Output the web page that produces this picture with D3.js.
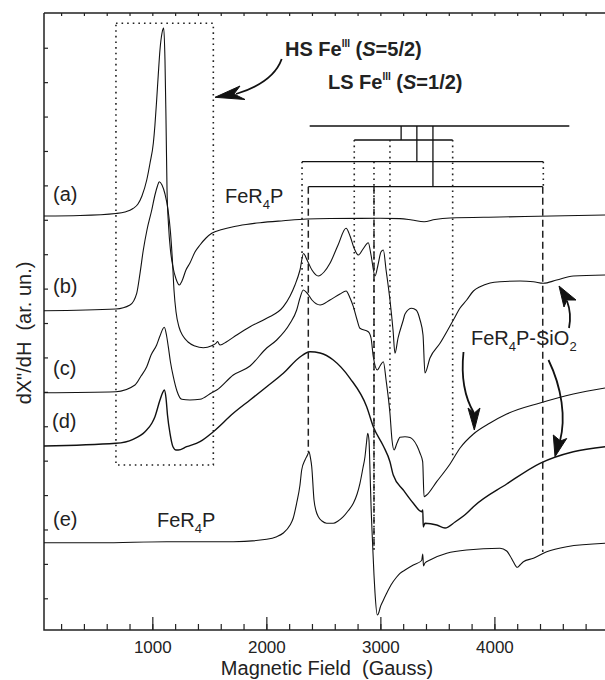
<!DOCTYPE html>
<html>
<head>
<meta charset="utf-8">
<script src="https://d3js.org/d3.v7.min.js"></script>
<style>
  body { margin: 0; background: #fff; }
  text { font-family: "Liberation Sans", Arial, sans-serif; fill: #222; }
</style>
</head>
<body>
<div id="chart"><svg width="605" height="680"></svg></div>
<script>
// field in Gauss, signal in arbitrary units (height above the bottom axis)
var curveA = [[50,414],[366,414.5],[681,416.5],[760,418],[831,421.5],[874,426],[909,434],[951,450],[980,467],[1009,487],[1023,505],[1038,530],[1052,555],[1067,580],[1085,597],[1100,602],[1111,570],[1120,510],[1129,440],[1142,405],[1159,380],[1181,363],[1208,351],[1237,345],[1260,349],[1295,360],[1330,367],[1374,378],[1418,385],[1471,392],[1521,396.7],[1611,400.5],[1710,403.3],[1822,405.5],[1945,407.3],[2149,409.3],[2354,411],[2558,411.5],[2997,411.7],[3172,411.4],[3277,410],[3383,408.3],[3479,410.5],[3611,412],[4049,413],[4970,415]];

var curveB = [[50,319.3],[681,321],[804,325],[863,336.7],[892,356.7],[921,380],[953,400],[995,420],[1023,435],[1045,444],[1061,448.3],[1085,445],[1111,436],[1138,420],[1159,398],[1177,368],[1190,340],[1208,318],[1234,303],[1269,294],[1313,288],[1374,284],[1447,282.3],[1521,284.3],[1558,286.7],[1573,288.5],[1585,286],[1594,285],[1652,288.3],[1740,295],[1857,303.3],[2003,311.7],[2149,323.3],[2208,334],[2251,345],[2295,360],[2326,376.5],[2357,370],[2400,360],[2456,354],[2506,358],[2558,366.7],[2629,385],[2699,401.7],[2734,394],[2769,382],[2806,375],[2848,381],[2894,387.3],[2918,375],[2953,354],[2979,365],[3005,378],[3026,380],[3050,360],[3084,330],[3111,300],[3128,276.7],[3155,292],[3201,310],[3216,316],[3275,321.7],[3313,320],[3348,310],[3374,295],[3391,257],[3435,272],[3523,286.7],[3640,310],[3699,322],[3757,330],[3816,339],[3874,343.3],[3962,347],[4049,348.3],[4225,349],[4342,348.3],[4429,346.7],[4546,350],[4692,354],[4970,355]];

var curveC = [[50,237.3],[681,238.3],[848,245],[901,254],[951,263.3],[989,275],[1038,285],[1067,294],[1105,302.7],[1124,295],[1140,283.3],[1159,268],[1184,253.3],[1216,239],[1258,230.7],[1330,230],[1418,230.7],[1521,237.3],[1565,240],[1710,255],[1857,264],[2003,282],[2091,290],[2208,306.7],[2266,320],[2295,332],[2324,340],[2357,337],[2400,330],[2471,325],[2558,330],[2646,336],[2699,339],[2734,332],[2763,323.3],[2796,310],[2821,301.7],[2894,298.3],[2918,292],[2938,273.3],[2973,260],[2997,264],[3026,268.3],[3050,250],[3084,216.7],[3102,190],[3120,180],[3146,187],[3172,192.7],[3216,193.3],[3260,192.5],[3289,190],[3322,184],[3348,176.7],[3371,168.3],[3383,133.3],[3406,135],[3494,148.3],[3611,166],[3699,182],[3816,196],[3962,207],[4108,216],[4400,227],[4692,236],[4970,242]];

var curveD = [[50,184],[681,186.7],[831,190.7],[936,198.3],[997,207],[1023,213.3],[1067,230],[1089,237],[1105,240],[1120,232],[1133,215],[1155,196.7],[1181,183.3],[1208,180],[1228,180],[1301,183.3],[1418,188.3],[1535,198.3],[1710,216.7],[1857,230],[2003,243.3],[2149,256.7],[2295,273],[2383,278.3],[2471,277],[2587,270],[2734,251.7],[2880,223.3],[2938,203.3],[3026,184],[3084,168.3],[3113,155],[3201,140],[3289,126.7],[3362,118.3],[3372,120],[3376,103],[3391,106.7],[3494,105],[3567,102],[3655,108],[3757,116.7],[3816,123.3],[4108,146],[4400,166.7],[4692,178.3],[4970,183.3]];

var curveE = [[50,87.3],[541,87.3],[1126,88.3],[1710,88.3],[2003,90.7],[2091,93.3],[2149,97],[2208,105],[2236,112],[2266,127],[2295,145],[2310,160],[2339,170],[2361,175],[2374,178.3],[2387,172],[2398,163.3],[2418,130],[2436,119],[2456,113.3],[2488,109],[2529,106.7],[2587,106.7],[2629,109],[2675,113.3],[2716,119],[2763,126.7],[2796,136],[2821,146.7],[2847,162],[2865,173.3],[2878,187],[2889,196.7],[2900,190],[2909,160],[2918,125],[2933,83.3],[2944,55],[2953,37],[2973,15],[2988,18],[2997,22],[3023,29],[3055,36.7],[3093,45],[3143,53],[3172,56.7],[3216,60],[3289,65],[3362,69.5],[3372,76],[3378,64],[3391,67],[3435,70],[3582,76.7],[3757,80],[4049,81.7],[4108,79],[4138,74],[4166,68.3],[4201,62.7],[4225,65],[4254,68.3],[4342,71.7],[4459,78.3],[4634,83.3],[4970,86.7]];

// g-value brackets: [fieldFrom, fieldTo, level]
var bracketBars = [[2380,4657,504],[2771,3634,490],[2313,4429,468.3],[2368,4424,443.3]];
// connectors between brackets: [field, levelTop, levelBottom]
var bracketLinks = [[3182,504,490],[3320,504,468.3],[3461,504,443.3]];
// drop lines: [field, levelTop, levelBottom, style]
var dropLines = [[2313,468.3,340,"dot"],[2368,443.3,178,"dash"],[2771,490,320,"dot"],
  [2944,468.3,80,"dot"],[2944,443.3,80,"dash"],[3084,490,217,"dot"],[3634,490,173,"dot"],
  [4429,468.3,443.3,"dot"],[4424,443.3,78,"dash"]];
// HS region box: fields and levels
var hsBox = [681, 1535, 165, 606.7];

var majorTicks = [1000, 2000, 3000, 4000];
var minorTicks = d3.range(200, 4970, 200);
var yTicks = d3.range(17).map(function(k) { return 31.7 + 34.41 * k; });

var svg = d3.select("#chart svg");
var x = d3.scaleLinear().domain([50, 4970]).range([44, 605]);
var y = d3.scaleLinear().domain([0, 617]).range([630, 13]);

// axes
var bottomMinor = svg.append("g").attr("transform", "translate(0,630)")
  .call(d3.axisBottom(x).tickValues(minorTicks).tickSize(-6).tickFormat(""));
var bottomMajor = svg.append("g").attr("transform", "translate(0,630)")
  .call(d3.axisBottom(x).tickValues(majorTicks).tickSize(-13).tickPadding(11).tickFormat(d3.format("d")));
bottomMajor.selectAll("text").attr("font-size", 17).style("font-family", "Liberation Sans, Arial, sans-serif").attr("fill", "#222");
var topAx = svg.append("g").attr("transform", "translate(0,13)")
  .call(d3.axisTop(x).tickValues(minorTicks).tickSize(-3).tickFormat(""));
var leftAx = svg.append("g").attr("transform", "translate(44,0)")
  .call(d3.axisLeft(y).tickValues(yTicks).tickSize(-4).tickFormat(""));
svg.selectAll(".domain").remove();
svg.selectAll(".tick line").attr("stroke", "#222").attr("stroke-width", 1.2);

svg.append("path")
  .attr("d", "M44,13 L605,13 M44,13 L44,630 L605,630")
  .attr("fill", "none").attr("stroke", "#222").attr("stroke-width", 1.5);

// curves
var line = d3.line()
  .x(function(d) { return x(d[0]); })
  .y(function(d) { return y(d[1]); })
  .curve(d3.curveMonotoneX);

[curveA, curveB, curveC, curveD, curveE].forEach(function(c, i) {
  svg.append("path")
    .attr("d", line(c))
    .attr("fill", "none")
    .attr("stroke", "#111")
    .attr("stroke-width", i == 3 ? 1.4 : 1.1);
});

// dotted box around HS signal
svg.append("rect")
  .attr("x", x(hsBox[0])).attr("y", y(hsBox[3]))
  .attr("width", x(hsBox[1]) - x(hsBox[0]))
  .attr("height", y(hsBox[2]) - y(hsBox[3]))
  .attr("fill", "none").attr("stroke", "#222")
  .attr("stroke-width", 1.6).attr("stroke-dasharray", "1.6,4");

// brackets
bracketBars.forEach(function(b) {
  svg.append("line")
    .attr("x1", x(b[0])).attr("x2", x(b[1]))
    .attr("y1", y(b[2])).attr("y2", y(b[2]))
    .attr("stroke", "#111").attr("stroke-width", 1.3);
});
bracketLinks.forEach(function(b) {
  svg.append("line")
    .attr("x1", x(b[0])).attr("x2", x(b[0]))
    .attr("y1", y(b[1])).attr("y2", y(b[2]))
    .attr("stroke", "#111").attr("stroke-width", 1.3);
});
dropLines.forEach(function(b) {
  svg.append("line")
    .attr("x1", x(b[0])).attr("x2", x(b[0]))
    .attr("y1", y(b[1])).attr("y2", y(b[2]))
    .attr("stroke", "#222")
    .attr("stroke-width", b[3] == "dot" ? 1.6 : 1.5)
    .attr("stroke-dasharray", b[3] == "dot" ? "1.6,4" : "7,4");
});

// labels
function label(tx, ty, size, parts, weight) {
  var t = svg.append("text").attr("x", tx).attr("y", ty)
    .attr("font-size", size).attr("font-weight", weight || "normal")
    .style("white-space", "pre");
  parts.forEach(function(p) {
    var s = t.append("tspan").text(p.t);
    if (p.dy) s.attr("dy", p.dy);
    if (p.size) s.attr("font-size", p.size);
    if (p.italic) s.attr("font-style", "italic");
  });
  return t;
}
label(53, 201, 20, [{t: "(a)"}]);
label(53, 293, 20, [{t: "(b)"}]);
label(53, 375, 20, [{t: "(c)"}]);
label(52, 428, 20, [{t: "(d)"}]);
label(53, 526, 20, [{t: "(e)"}]);
label(225, 203, 20, [{t: "FeR"}, {t: "4", dy: 6, size: 13}, {t: "P", dy: -6}]);
label(157, 527, 20, [{t: "FeR"}, {t: "4", dy: 6, size: 13}, {t: "P", dy: -6}]);
label(471, 345, 20, [{t: "FeR"}, {t: "4", dy: 6, size: 13}, {t: "P-SiO", dy: -6}, {t: "2", dy: 6, size: 13}]);
label(285, 56, 20, [{t: "HS Fe"}, {t: "III", dy: -9, size: 10}, {t: " (", dy: 9}, {t: "S", italic: true}, {t: "=5/2)"}], "bold");
label(328, 89, 20, [{t: "LS Fe"}, {t: "III", dy: -9, size: 10}, {t: " (", dy: 9}, {t: "S", italic: true}, {t: "=1/2)"}], "bold");

svg.append("text")
  .attr("x", 327).attr("y", 675)
  .attr("text-anchor", "middle").attr("font-size", 20)
  .style("white-space", "pre")
  .text("Magnetic Field  (Gauss)");
svg.append("text")
  .attr("transform", "translate(31,333) rotate(-90)")
  .attr("text-anchor", "middle").attr("font-size", 20)
  .style("white-space", "pre")
  .text("dX\"/dH  (ar. un.)");

// arrows
var arrows = [
  {shaft: "M281.7,59 C276,75 262,86 236,94", head: "M215,97.3 L240,86 L234,94 L245,99.5 Z"},
  {shaft: "M569,328 C571,318 570,309 567,301", head: "M559,286 L576,300 L567,300 L564,307 Z"},
  {shaft: "M463.5,352 C461,376 465,398 474,413", head: "M474.3,430 L468,408 L474.3,413 L480,408 Z"},
  {shaft: "M548.5,360 C562,388 566,418 560,441", head: "M555,456.7 L553.3,435 L560.5,441 L566.7,438.5 Z"}
];
arrows.forEach(function(a) {
  svg.append("path").attr("d", a.shaft).attr("fill", "none")
    .attr("stroke", "#111").attr("stroke-width", 1.8);
  svg.append("path").attr("d", a.head).attr("fill", "#111").attr("stroke", "#111")
    .attr("stroke-width", 1);
});
</script>
</body>
</html>
